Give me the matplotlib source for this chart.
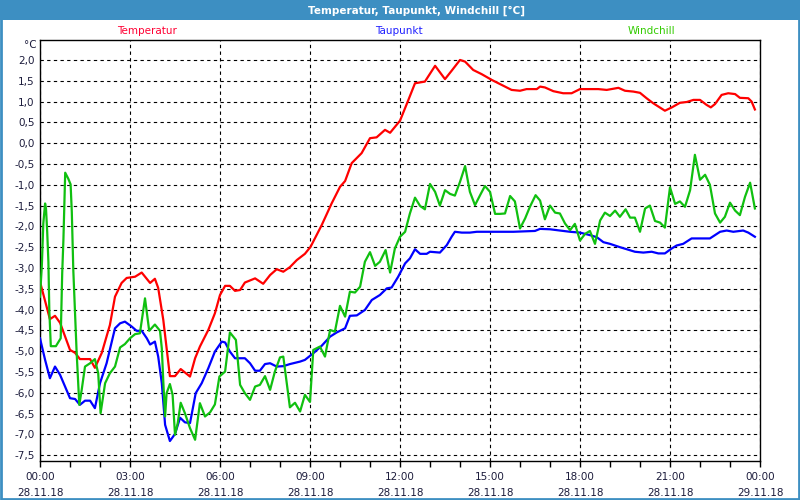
import matplotlib
matplotlib.use("Agg")
import matplotlib.pyplot as plt
from matplotlib.ticker import FixedLocator, FuncFormatter, MultipleLocator
from matplotlib.patches import Rectangle

# hours since 28.11.18 00:00
temp_h = [0, 0.33, 0.5, 0.67, 1.0, 1.17, 1.33, 1.67, 1.83, 2.06, 2.33, 2.5, 2.72, 2.89, 3.17, 3.39,
          3.67, 3.83, 3.94, 4.11, 4.33, 4.5, 4.69, 5.0, 5.17, 5.33, 5.61, 5.83, 6.0, 6.17, 6.33, 6.5,
          6.67, 6.83, 7.17, 7.44, 7.67, 7.89, 8.11, 8.33, 8.56, 8.83, 9.02, 9.39, 9.72, 10.0, 10.17,
          10.39, 10.5, 10.72, 11.0, 11.22, 11.5, 11.67, 12.0, 12.28, 12.5, 12.83, 13.17, 13.5, 13.72,
          14.0, 14.17, 14.44, 14.72, 15.06, 15.39, 15.72, 16.0, 16.22, 16.56, 16.67, 16.83, 17.11,
          17.44, 17.72, 18.0, 18.33, 18.61, 18.89, 19.28, 19.5, 19.78, 20.0, 20.22, 20.44, 20.83,
          21.06, 21.33, 21.56, 21.78, 22.0, 22.22, 22.36, 22.5, 22.72, 22.94, 23.17, 23.33, 23.61,
          23.72, 23.83]
temp = [-3.33, -4.23, -4.15, -4.32, -4.97, -5.04, -5.19, -5.19, -5.40, -5.04, -4.37, -3.69, -3.36,
        -3.24, -3.21, -3.11, -3.36, -3.26, -3.48, -4.25, -5.60, -5.60, -5.43, -5.61, -5.17, -4.89,
        -4.49, -4.09, -3.65, -3.43, -3.43, -3.55, -3.53, -3.35, -3.25, -3.38, -3.17, -3.03, -3.09,
        -2.98, -2.81, -2.66, -2.49, -1.97, -1.45, -1.05, -0.91, -0.48, -0.40, -0.24, 0.12, 0.14,
        0.32, 0.25, 0.54, 1.04, 1.44, 1.48, 1.86, 1.54, 1.74, 2.00, 1.96, 1.76, 1.66, 1.52, 1.40,
        1.28, 1.26, 1.30, 1.30, 1.36, 1.34, 1.25, 1.20, 1.20, 1.30, 1.30, 1.30, 1.28, 1.33, 1.26,
        1.24, 1.21, 1.08, 0.96, 0.78, 0.86, 0.97, 0.99, 1.04, 1.04, 0.92, 0.86, 0.94, 1.16, 1.20,
        1.18, 1.09, 1.08, 1.00, 0.81]

dew_h = [0, 0.17, 0.33, 0.5, 0.67, 1.0, 1.17, 1.33, 1.5, 1.67, 1.83, 2.0, 2.22, 2.5, 2.67, 2.83,
         3.06, 3.22, 3.39, 3.56, 3.67, 3.83, 3.94, 4.06, 4.17, 4.33, 4.5, 4.67, 4.83, 5.0, 5.19,
         5.39, 5.61, 5.83, 6.06, 6.17, 6.33, 6.5, 6.83, 7.0, 7.17, 7.33, 7.5, 7.67, 7.89, 8.11,
         8.33, 8.67, 8.83, 9.11, 9.39, 9.67, 9.89, 10.17, 10.33, 10.56, 10.83, 11.06, 11.33, 11.56,
         11.72, 11.94, 12.17, 12.33, 12.5, 12.67, 12.89, 13.0, 13.33, 13.56, 13.72, 13.83, 14.06,
         14.33, 14.56, 15.33, 15.78, 16.5, 16.67, 17.0, 17.33, 17.67, 18.0, 18.33, 18.56, 18.78,
         19.0, 19.33, 19.56, 19.83, 20.11, 20.39, 20.61, 20.83, 21.06, 21.22, 21.44, 21.72, 21.94,
         22.33, 22.67, 22.89, 23.11, 23.44, 23.61, 23.83]
dew = [-4.69, -5.21, -5.65, -5.37, -5.57, -6.13, -6.15, -6.29, -6.19, -6.19, -6.37, -5.77, -5.29,
       -4.45, -4.33, -4.29, -4.41, -4.51, -4.51, -4.69, -4.84, -4.77, -5.13, -5.77, -6.77, -7.16,
       -6.99, -6.60, -6.71, -6.73, -6.01, -5.77, -5.41, -5.01, -4.77, -4.79, -5.01, -5.17, -5.17,
       -5.29, -5.47, -5.47, -5.31, -5.29, -5.37, -5.36, -5.31, -5.25, -5.21, -5.05, -4.87, -4.65,
       -4.55, -4.45, -4.15, -4.14, -4.01, -3.77, -3.65, -3.49, -3.47, -3.21, -2.89, -2.77, -2.55,
       -2.66, -2.66, -2.61, -2.63, -2.45, -2.25, -2.13, -2.15, -2.15, -2.13, -2.13, -2.13, -2.11,
       -2.06, -2.07, -2.10, -2.13, -2.15, -2.21, -2.26, -2.38, -2.42, -2.50, -2.55, -2.61, -2.63,
       -2.61, -2.65, -2.65, -2.53, -2.46, -2.42, -2.29, -2.29, -2.29, -2.13, -2.10, -2.13, -2.10,
       -2.15, -2.25]

wind_h = [0, 0.06, 0.11, 0.17, 0.2, 0.24, 0.28, 0.31, 0.36, 0.53, 0.69, 0.74, 0.78, 0.84, 0.94,
          1.02, 1.06, 1.11, 1.22, 1.31, 1.39, 1.5, 1.67, 1.83, 1.94, 2.02, 2.17, 2.33, 2.5, 2.67,
          2.83, 3.0, 3.17, 3.33, 3.5, 3.64, 3.83, 4.0, 4.06, 4.11, 4.17, 4.22, 4.33, 4.42, 4.5,
          4.59, 4.69, 4.83, 5.0, 5.17, 5.33, 5.5, 5.67, 5.83, 5.98, 6.17, 6.33, 6.53, 6.67, 6.83,
          7.0, 7.17, 7.33, 7.5, 7.67, 7.83, 8.0, 8.11, 8.33, 8.5, 8.67, 8.83, 9.0, 9.11, 9.33, 9.5,
          9.67, 9.83, 10.0, 10.17, 10.33, 10.5, 10.67, 10.83, 11.0, 11.17, 11.33, 11.52, 11.67,
          11.83, 12.0, 12.17, 12.33, 12.5, 12.67, 12.83, 13.0, 13.17, 13.33, 13.5, 13.67, 13.83,
          14.0, 14.17, 14.33, 14.5, 14.67, 14.83, 15.0, 15.17, 15.33, 15.5, 15.67, 15.83, 16.0,
          16.17, 16.33, 16.52, 16.67, 16.83, 17.0, 17.17, 17.33, 17.5, 17.67, 17.83, 18.0, 18.17,
          18.33, 18.5, 18.67, 18.83, 19.0, 19.17, 19.33, 19.52, 19.67, 19.83, 20.0, 20.17, 20.33,
          20.5, 20.67, 20.83, 21.0, 21.17, 21.33, 21.5, 21.67, 21.83, 22.0, 22.17, 22.33, 22.5,
          22.67, 22.83, 23.0, 23.17, 23.33, 23.5, 23.67, 23.83]
wind = [-3.69, -2.97, -1.93, -1.45, -1.57, -2.13, -2.85, -4.01, -4.88, -4.88, -4.69, -3.13, -2.33,
        -0.71, -0.85, -0.99, -1.65, -3.05, -5.01, -6.29, -5.93, -5.37, -5.29, -5.19, -5.53, -6.49,
        -5.77, -5.53, -5.37, -4.91, -4.83, -4.69, -4.59, -4.57, -3.73, -4.51, -4.36, -4.51, -4.93,
        -5.73, -6.57, -6.01, -5.79, -6.05, -7.01, -6.73, -6.24, -6.49, -6.85, -7.13, -6.25, -6.57,
        -6.47, -6.28, -5.61, -5.49, -4.55, -4.73, -5.81, -6.01, -6.17, -5.85, -5.81, -5.60, -5.93,
        -5.49, -5.15, -5.13, -6.35, -6.24, -6.45, -6.05, -6.22, -4.97, -4.89, -5.13, -4.49, -4.53,
        -3.91, -4.17, -3.57, -3.59, -3.45, -2.85, -2.62, -2.95, -2.85, -2.57, -3.11, -2.53, -2.25,
        -2.13, -1.69, -1.31, -1.51, -1.59, -0.98, -1.17, -1.50, -1.13, -1.22, -1.26, -0.93, -0.55,
        -1.17, -1.49, -1.25, -1.03, -1.17, -1.70, -1.70, -1.69, -1.27, -1.40, -2.05, -1.81, -1.53,
        -1.25, -1.38, -1.83, -1.50, -1.67, -1.69, -1.93, -2.09, -1.94, -2.34, -2.18, -2.11, -2.42,
        -1.86, -1.67, -1.75, -1.62, -1.77, -1.59, -1.79, -1.79, -2.13, -1.57, -1.50, -1.87, -1.91,
        -2.03, -1.06, -1.46, -1.40, -1.53, -1.13, -0.28, -0.88, -0.76, -1.00, -1.69, -1.91, -1.77,
        -1.43, -1.62, -1.73, -1.29, -0.95, -1.57]

tick_hours = [0, 3, 6, 9, 12, 15, 18, 21, 24]
tick_labels = ["00:00\n28.11.18", "03:00\n28.11.18", "06:00\n28.11.18", "09:00\n28.11.18",
               "12:00\n28.11.18", "15:00\n28.11.18", "18:00\n28.11.18", "21:00\n28.11.18",
               "00:00\n29.11.18"]

txt = "#1c1c3c"

fig = plt.figure(figsize=(8, 5), dpi=100)
fig.patch.set_facecolor("white")

# window frame and title bar
fig.patches.append(Rectangle((0, 0.96), 1, 0.04, transform=fig.transFigure,
                             facecolor="#3d8fc2", edgecolor="none", zorder=0))
fig.patches.append(Rectangle((0.0015, 0.002), 0.997, 0.996, transform=fig.transFigure,
                             facecolor="none", edgecolor="#3d8fc2", linewidth=2, zorder=5))
fig.text(0.521, 0.979, "Temperatur, Taupunkt, Windchill [°C]", color="white",
         fontsize=7.5, fontweight="bold", ha="center", va="center")

ax = fig.add_axes([0.05, 0.078, 0.9, 0.842])
ax.plot(temp_h, temp, color="#ff0000", lw=1.6, zorder=3)
ax.plot(dew_h, dew, color="#0000ff", lw=1.6, zorder=3)
ax.plot(wind_h, wind, color="#10c010", lw=1.6, zorder=3)

ax.set_xlim(0, 24)
ax.set_ylim(-7.64, 2.48)

ax.xaxis.set_major_locator(FixedLocator(tick_hours))
ax.set_xticklabels(tick_labels, fontsize=7.5, color=txt, linespacing=1.75)
ax.xaxis.set_minor_locator(MultipleLocator(1))
ax.tick_params(axis="x", which="both", direction="out", length=4, width=1, pad=4)

ax.yaxis.set_major_locator(FixedLocator([v / 2 for v in range(-15, 5)]))
ax.yaxis.set_major_formatter(FuncFormatter(lambda v, p: f"{v:.1f}".replace(".", ",")))
ax.tick_params(axis="y", length=0, pad=4, labelsize=7.5, labelcolor=txt)

ax.grid(True, which="major", color="black", linestyle=(0, (3, 3)), linewidth=0.8)
for s in ax.spines.values():
    s.set_linewidth(1)
    s.set_color("black")

ax.text(-0.004, 1.0, "°C", transform=ax.transAxes, ha="right", va="top", fontsize=7.5, color=txt)

fig.text(0.184, 0.938, "Temperatur", color="#ff0033", fontsize=7.5, ha="center", va="center")
fig.text(0.499, 0.938, "Taupunkt", color="#2020ff", fontsize=7.5, ha="center", va="center")
fig.text(0.814, 0.938, "Windchill", color="#33cc00", fontsize=7.5, ha="center", va="center")

fig.savefig("out.png", dpi=100)
